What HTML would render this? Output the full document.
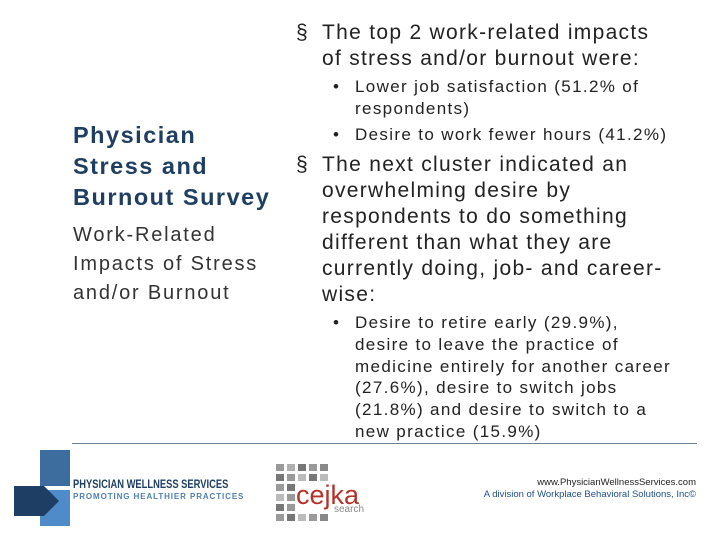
<!DOCTYPE html>
<html><head><meta charset="utf-8"><style>
body{margin:0;width:720px;height:540px;background:#fff;position:relative;overflow:hidden;font-family:"Liberation Sans",sans-serif;color:#333}
.a{position:absolute;margin:0;white-space:nowrap}
.t{font-size:21px;line-height:26px;color:#222;letter-spacing:1.3px}
.s{font-size:17px;line-height:21.8px;color:#222;letter-spacing:1.35px}
</style></head><body>
<div class="a" style="left:73px;top:120px;font-size:23.5px;line-height:31px;font-weight:bold;color:#1f3f62;letter-spacing:1.5px">Physician<br>Stress and<br>Burnout Survey</div>
<div class="a" style="left:73px;top:221px;font-size:20px;line-height:29px;color:#333;letter-spacing:1.8px">Work-Related<br>Impacts of Stress<br>and/or Burnout</div>

<div class="a t" style="left:296px;top:20px">§</div>
<div class="a t" style="left:322px;top:20px">The top 2 work-related impacts<br>of stress and/or burnout were:</div>
<div class="a s" style="left:333px;top:76px">•</div>
<div class="a s" style="left:355px;top:76px">Lower job satisfaction (51.2% of<br>respondents)</div>
<div class="a s" style="left:333px;top:124px">•</div>
<div class="a s" style="left:355px;top:124px">Desire to work fewer hours (41.2%)</div>
<div class="a t" style="left:296px;top:152px">§</div>
<div class="a t" style="left:322px;top:152px">The next cluster indicated an<br>overwhelming desire by<br>respondents to do something<br>different than what they are<br>currently doing, job- and career-<br>wise:</div>
<div class="a s" style="left:333px;top:312px">•</div>
<div class="a s" style="left:355px;top:312px">Desire to retire early (29.9%),<br>desire to leave the practice of<br>medicine entirely for another career<br>(27.6%), desire to switch jobs<br>(21.8%) and desire to switch to a<br>new practice (15.9%)</div>

<div class="a" style="left:72px;top:443px;width:625px;height:1px;background:#6d8296"></div>

<svg class="a" style="left:14px;top:450px" width="60" height="78">
<rect x="26" y="0" width="30" height="36" fill="#3d6d9e"/>
<rect x="26" y="40" width="30" height="36" fill="#4f8bc8"/>
<polygon points="0,36 30,36 45,51 30,66 0,66" fill="#1e3f63"/>
</svg>
<div class="a" style="left:73px;top:477px;font-size:12px;font-weight:bold;color:#1e3f63;transform:scaleX(0.78);transform-origin:left">PHYSICIAN WELLNESS SERVICES</div>
<div class="a" style="left:73px;top:492px;font-size:8px;font-weight:bold;color:#4f7fb3;letter-spacing:0.9px">PROMOTING HEALTHIER PRACTICES</div>

<svg class="a" style="left:276px;top:464px" width="100" height="62">
<g fill="#9a9a9a">
<rect x="0" y="0" width="8" height="7"/><rect x="11" y="0" width="8" height="7" fill="#b0b0b0"/><rect x="22" y="0" width="8" height="7" fill="#777"/><rect x="33" y="0" width="8" height="7"/><rect x="44" y="0" width="8" height="7" fill="#888"/>
<rect x="0" y="10" width="8" height="7" fill="#777"/><rect x="11" y="10" width="8" height="7"/><rect x="22" y="10" width="8" height="7" fill="#bbb"/><rect x="33" y="10" width="8" height="7" fill="#777"/><rect x="44" y="10" width="8" height="7" fill="#bbb"/>
<rect x="0" y="20" width="8" height="7"/><rect x="11" y="20" width="8" height="7" fill="#777"/>
<rect x="0" y="30" width="8" height="7" fill="#bbb"/><rect x="11" y="30" width="8" height="7"/>
<rect x="0" y="40" width="8" height="7" fill="#777"/><rect x="11" y="40" width="8" height="7"/><rect x="22" y="40" width="8" height="7" fill="#777"/><rect x="33" y="40" width="8" height="7"/>
<rect x="0" y="50" width="8" height="7"/><rect x="11" y="50" width="8" height="7" fill="#777"/><rect x="22" y="50" width="8" height="7" fill="#bbb"/><rect x="33" y="50" width="8" height="7"/><rect x="44" y="50" width="8" height="7" fill="#888"/>
</g>
<rect x="20" y="17" width="72" height="30" fill="#fff"/>
<text x="20" y="40" font-family="Liberation Sans, sans-serif" font-size="27" fill="#b5322a">cejka</text>
<text x="58" y="48" font-family="Liberation Sans, sans-serif" font-size="10" fill="#888">search</text>
</svg>

<div class="a" style="right:24px;top:477px;font-size:9.5px;color:#222">www.PhysicianWellnessServices.com</div>
<div class="a" style="right:24px;top:489px;font-size:9.5px;color:#1f4f88">A division of Workplace Behavioral Solutions, Inc©</div>
</body></html>
